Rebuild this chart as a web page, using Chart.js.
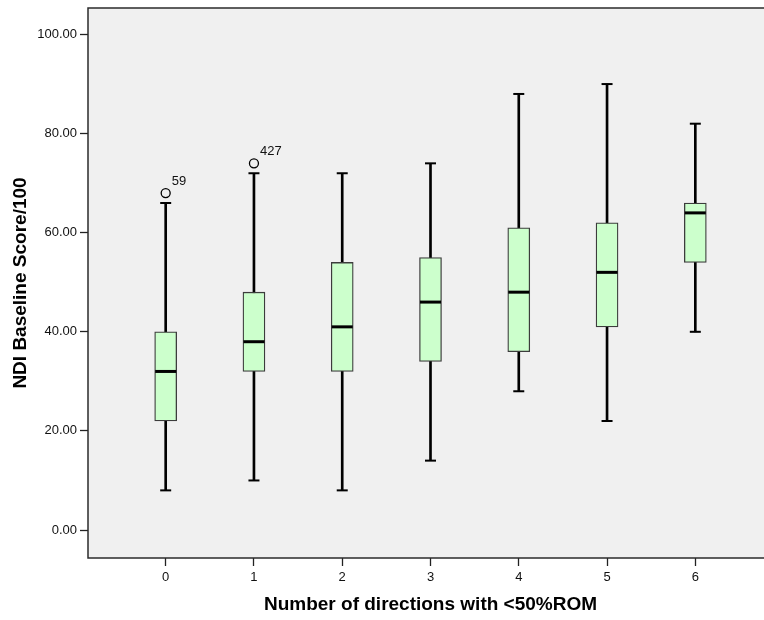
<!DOCTYPE html>
<html>
<head>
<meta charset="utf-8">
<script src="https://cdn.jsdelivr.net/npm/chart.js@4.4.1/dist/chart.umd.min.js"></script>
<style>
  html, body { margin: 0; padding: 0; background: #ffffff; overflow: hidden; }
  #wrap { width: 764px; height: 620px; overflow: hidden; position: relative; }
  canvas { display: block; }
</style>
</head>
<body>
<div id="wrap"><canvas id="chart" width="780" height="620"></canvas></div>
<script>
// Groups on the x axis
const categories = ['0', '1', '2', '3', '4', '5', '6'];

// Box-plot summary per group (NDI baseline score / 100)
const whiskerLow  = [8, 10, 8, 14, 28, 22, 40];
const quartile1   = [22, 32, 32, 34, 36, 41, 54];
const medians     = [32, 38, 41, 46, 48, 52, 64];
const quartile3   = [40, 48, 54, 55, 61, 62, 66];
const whiskerHigh = [66, 72, 72, 74, 88, 90, 82];

// Outlying cases: group index, value, case number
const outlierGroup = [0, 1];
const outlierValue = [68, 74];
const outlierCase  = ['59', '427'];

// Axis tick values
const yTickValues = [0, 20, 40, 60, 80, 100];

const FONT = "Arial, 'Liberation Sans', Helvetica, sans-serif";

const whiskerData = categories.map((c, i) => ({ x: i, y: [whiskerLow[i], whiskerHigh[i]] }));
const boxData = categories.map((c, i) => ({ x: i, y: [quartile1[i], quartile3[i]] }));
const capData = categories.flatMap((c, i) => [
  { x: i, y: whiskerLow[i] },
  { x: i, y: whiskerHigh[i] }
]);
const medianData = categories.map((c, i) => ({ x: i, y: medians[i] }));
const outlierData = outlierGroup.map((g, k) => ({ x: g, y: outlierValue[k] }));

// Plot panel: grey fill and dark frame
const panelPlugin = {
  id: 'panel',
  beforeDatasetsDraw(chart) {
    const { ctx, chartArea: a } = chart;
    ctx.save();
    ctx.fillStyle = '#f0f0f0';
    ctx.fillRect(a.left, a.top, a.right - a.left, a.bottom - a.top);
    ctx.strokeStyle = '#2b2b2b';
    ctx.lineWidth = 1.5;
    ctx.strokeRect(a.left, a.top, a.right - a.left, a.bottom - a.top);
    ctx.restore();
  }
};

// Case numbers written beside the outlier circles
const caseLabelPlugin = {
  id: 'caseLabels',
  afterDatasetsDraw(chart) {
    const { ctx, scales: { x, y } } = chart;
    ctx.save();
    ctx.font = '13px ' + FONT;
    ctx.fillStyle = '#111111';
    ctx.textAlign = 'left';
    ctx.textBaseline = 'alphabetic';
    outlierGroup.forEach((g, k) => {
      const px = x.getPixelForValue(g);
      const py = y.getPixelForValue(outlierValue[k]);
      ctx.fillText(outlierCase[k], px + 6, py - 8.5);
    });
    ctx.restore();
  }
};

new Chart(document.getElementById('chart'), {
  type: 'bar',
  data: {
    datasets: [
      {
        label: 'whiskers',
        data: whiskerData,
        backgroundColor: '#000000',
        borderWidth: 0,
        barThickness: 2,
        grouped: false,
        order: 4
      },
      {
        label: 'boxes',
        data: boxData,
        backgroundColor: '#ccffcc',
        borderColor: '#3c3c3c',
        borderWidth: 1.3,
        borderSkipped: false,
        barThickness: 22,
        grouped: false,
        order: 3
      },
      {
        type: 'scatter',
        label: 'caps',
        data: capData,
        pointStyle: 'line',
        radius: 5.5,
        borderColor: '#000000',
        borderWidth: 2,
        order: 2
      },
      {
        type: 'scatter',
        label: 'medians',
        data: medianData,
        pointStyle: 'line',
        radius: 10.5,
        borderColor: '#000000',
        borderWidth: 3,
        order: 2
      },
      {
        type: 'scatter',
        label: 'outliers',
        data: outlierData,
        pointStyle: 'circle',
        radius: 4.5,
        backgroundColor: 'rgba(0,0,0,0)',
        borderColor: '#000000',
        borderWidth: 1.3,
        order: 1
      }
    ]
  },
  options: {
    responsive: false,
    animation: false,
    devicePixelRatio: 1,
    layout: { padding: { left: 0, top: 8, right: 7, bottom: 0 }, autoPadding: false },
    plugins: { legend: { display: false }, tooltip: { enabled: false } },
    scales: {
      x: {
        type: 'linear',
        min: -0.88,
        max: 6.88,
        offset: false,
        afterBuildTicks: s => { s.ticks = categories.map((c, i) => ({ value: i })); },
        afterFit: s => { s.height = 62; s.paddingLeft = 0; s.paddingRight = 0; },
        grid: { offset: false, drawOnChartArea: false, drawTicks: true, tickLength: 8, tickColor: '#222222', tickWidth: 1.3 },
        border: { display: false },
        ticks: {
          autoSkip: false,
          maxRotation: 0,
          padding: 4,
          color: '#111111',
          font: { family: FONT, size: 13 },
          callback: v => categories[v]
        },
        title: {
          display: true,
          text: 'Number of directions with <50%ROM',
          color: '#000000',
          font: { family: FONT, size: 19, weight: 'bold' },
          padding: { top: 0, bottom: 4 }
        }
      },
      y: {
        type: 'linear',
        min: -5.65,
        max: 105.35,
        afterBuildTicks: s => { s.ticks = yTickValues.map(v => ({ value: v })); },
        afterFit: s => { s.width = 88; s.paddingTop = 0; s.paddingBottom = 0; },
        grid: { drawOnChartArea: false, drawTicks: true, tickLength: 8, tickColor: '#222222', tickWidth: 1.3 },
        border: { display: false },
        ticks: {
          padding: 3,
          color: '#111111',
          font: { family: FONT, size: 13 },
          callback: v => Number(v).toFixed(2)
        },
        title: {
          display: true,
          text: 'NDI Baseline Score/100',
          color: '#000000',
          font: { family: FONT, size: 19, weight: 'bold' },
          padding: { top: 9, bottom: 0 }
        }
      }
    }
  },
  plugins: [panelPlugin, caseLabelPlugin]
});
</script>
</body>
</html>
